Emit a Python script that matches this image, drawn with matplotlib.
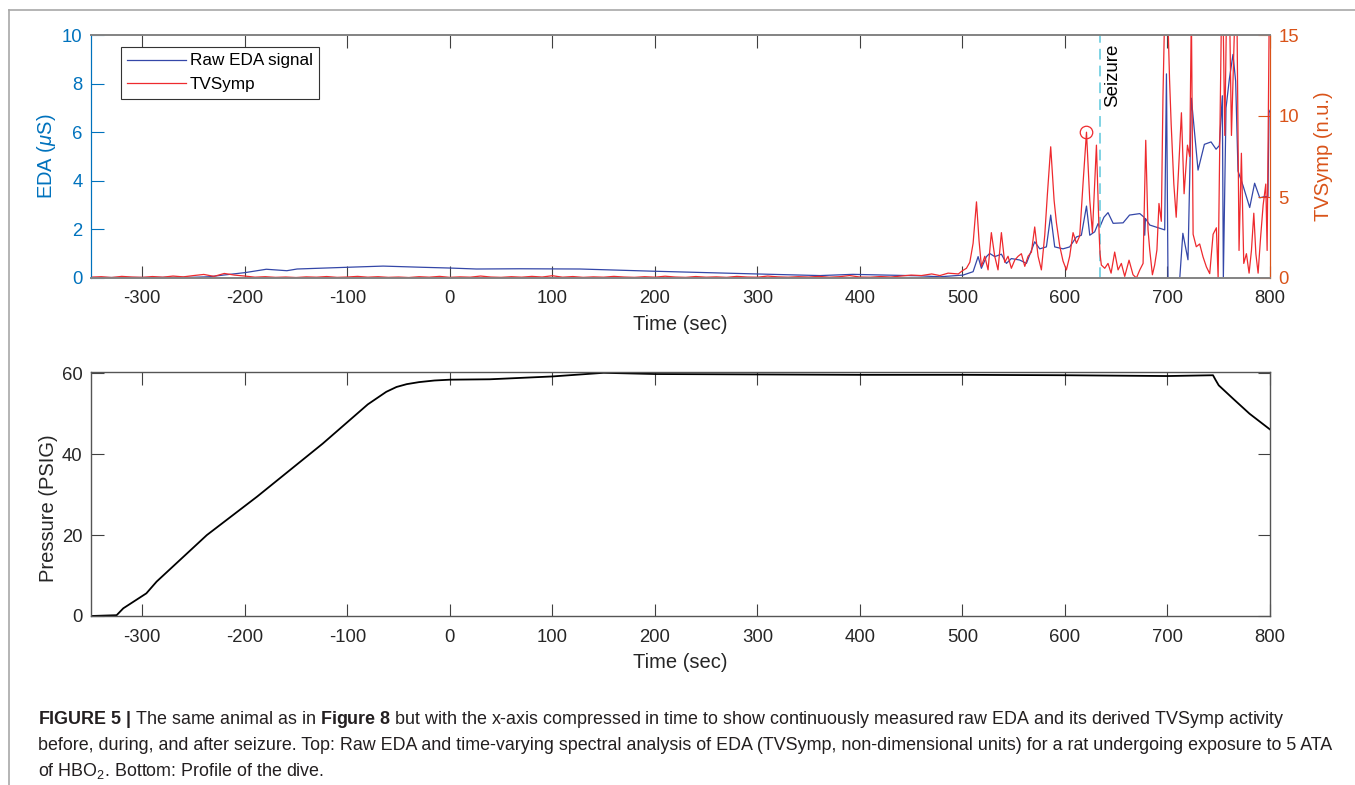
import numpy as np
import matplotlib
matplotlib.use('Agg')
import matplotlib.pyplot as plt
from matplotlib.lines import Line2D

plt.rcParams['font.family'] = ['Liberation Sans', 'DejaVu Sans']
plt.rcParams['mathtext.fontset'] = 'custom'
plt.rcParams['mathtext.rm'] = 'Liberation Sans'
plt.rcParams['mathtext.it'] = 'Liberation Sans:italic'
plt.rcParams['mathtext.bf'] = 'Liberation Sans:bold'
plt.rcParams['axes.unicode_minus'] = False

# -------------------------------
# Data
# -------------------------------
# raw EDA (uS)
eda_t = [-350, -300, -250, -235, -221, -200, -179, -159, -149, -101, -65, -26, 0, 26, 68,
         127, 198, 296, 361, 393, 458, 478, 500.6, 510.4, 515.3, 518.5, 523.4, 526.6, 531.5, 538,
         542.9, 547.7, 555.9, 562.4, 570.5, 575.4, 581.9, 586.1, 590, 598.1, 604.6, 611.2, 616, 621, 624.2,
         629, 632.3, 634, 638, 642, 647, 656.7, 663, 673, 677.2, 677.8, 678.5, 682.7, 697.3, 699,
         700.5, 712, 715, 720, 723.3, 729.8, 736, 742.5, 747.4, 750.6, 753.5, 754.5, 757.1, 760.4, 763.9,
         766.5, 768.8, 773.7, 780.2, 785, 790, 794.8, 798, 799, 800]
eda_v = [0.02, 0.02, 0.03, 0.05, 0.12, 0.22, 0.36, 0.3, 0.37, 0.44, 0.49, 0.44, 0.41, 0.37, 0.38,
         0.37, 0.28, 0.17, 0.1, 0.15, 0.09, 0.05, 0.12, 0.26, 0.88, 0.4, 0.88, 1.01, 0.88, 0.98,
         0.6, 0.8, 0.74, 0.6, 1.49, 1.2, 1.28, 2.59, 1.28, 1.2, 1.28, 1.69, 1.76, 2.96, 1.76,
         1.9, 2.24, 2.1, 2.5, 2.69, 2.25, 2.27, 2.59, 2.65, 2.5, 1.76, 2.45, 2.18, 1.98, 8.4,
         0.0, 0.0, 1.84, 0.75, 7.4, 4.44, 5.5, 5.6, 5.3, 5.45, 7.5, 0.0, 7.0, 8.2, 9.2,
         8.1, 4.4, 3.8, 2.9, 3.9, 3.3, 3.35, 3.35, 6.8, 6.9]

# TVSymp (n.u.), quiet part sampled every 10 s from -350 to 470
tv_quiet = [0.05, 0.08, 0.03, 0.1, 0.06, 0.04, 0.09, 0.05, 0.12, 0.07,
            0.15, 0.22, 0.1, 0.28, 0.18, 0.12, 0.05, 0.08, 0.04, 0.06,
            0.03, 0.07, 0.05, 0.09, 0.04, 0.06, 0.1, 0.05, 0.08, 0.04,
            0.06, 0.03, 0.08, 0.05, 0.1, 0.04, 0.07, 0.05, 0.12, 0.06,
            0.04, 0.08, 0.05, 0.1, 0.06, 0.14, 0.05, 0.09, 0.04, 0.07,
            0.05, 0.1, 0.06, 0.04, 0.08, 0.05, 0.11, 0.06, 0.04, 0.09,
            0.05, 0.07, 0.04, 0.1, 0.06, 0.05, 0.12, 0.07, 0.05, 0.08,
            0.06, 0.1, 0.05, 0.08, 0.15, 0.06, 0.05, 0.09, 0.06, 0.12,
            0.18, 0.15, 0.25]
tv_quiet_t = np.arange(-350, 471, 10)

# TVSymp active part
tv_t = [478, 486, 496, 500, 503.9, 507.2, 510.4, 513.7, 516.2, 518.5,
        521.8, 525, 528.2, 531.5, 534.7, 538, 541.2, 544.5, 547.7, 551,
        554.3, 557.5, 560.8, 564, 567.3, 570.5, 573.8, 577, 580.3, 582.9,
        586.1, 589.4, 591.7, 594.9, 598.1, 601.4, 604.6, 607.9, 611.2, 614.4,
        617.7, 621, 624.2, 626.8, 630.7, 633.3, 634.2, 635.5, 638.8, 642,
        645, 648.5, 651.8, 655, 658.3, 662.5, 666.4, 669.7, 673, 676.2,
        678.8, 681, 682.7, 685.3, 687.5, 689.7, 691.7, 694, 695.6, 697.3,
        700, 702, 703.6, 706.2, 708.5, 713.6, 716.2, 719.5, 721.7, 723.3,
        725, 728.1, 731.4, 734.7, 738, 741.2, 744.5, 747.7, 749.4, 751,
        752.6, 754.3, 755.9, 757.5, 760.7, 762.4, 765.6, 767.8, 769.8, 772.1,
        774.4, 777, 779.6, 781.9, 784.2, 786.2, 788.4, 790.7, 793.3, 795.9,
        797.2, 799.2, 800]
tv_v = [0.15, 0.3, 0.25, 0.45, 0.6, 0.97, 2.14, 4.7, 2.3, 0.72,
        1.34, 0.5, 2.8, 1.34, 0.5, 2.8, 0.97, 1.34, 0.6, 1.1,
        1.34, 1.5, 0.72, 1.34, 1.6, 3.15, 1.34, 0.5, 2.65, 5.2,
        8.1, 4.8, 3.4, 1.97, 1.05, 0.5, 1.34, 2.8, 2.14, 2.6,
        5.9, 9.0, 4.8, 2.8, 8.2, 2.8, 1.5, 0.8, 0.6, 0.9,
        0.3, 1.6, 0.5, 0.9, 0.1, 1.1, 0.2, 0.0, 0.5, 0.9,
        8.5, 3.0, 1.73, 0.2, 0.8, 1.73, 4.6, 3.5, 11.2, 16.5,
        17, 12.3, 9.5, 5.8, 3.75, 10.2, 5.2, 8.2, 7.5, 16.5,
        2.7, 1.93, 2.1, 1.3, 0.68, 0.27, 2.7, 3.1, 0.0, 8.3,
        16, 16, 8.8, 16, 16, 8.8, 16, 16, 1.7, 7.7,
        0.9, 1.5, 0.3, 1.7, 4.0, 1.5, 0.3, 2.4, 4.5, 5.8,
        1.7, 16, 16]

peak_t, peak_v = 621, 9.0      # circled TVSymp peak
seizure_t = 634

# dive profile (PSIG)
p_t = [-350, -325, -318.5, -296, -286, -237, -188, -124, -80, -62, -52, -42, -30, -15, 0, 39,
       100, 150, 200, 300, 400, 500, 600, 700, 744.4, 747, 750, 764, 780, 800]
p_v = [0, 0.2, 1.9, 5.6, 8.5, 20.0, 29.5, 42.6, 52.3, 55.4, 56.6, 57.3, 57.8, 58.2, 58.4, 58.5,
       59.2, 60.1, 59.8, 59.7, 59.6, 59.6, 59.5, 59.3, 59.5, 58.3, 57.0, 53.7, 50.0, 46.1]

xticks = [-300, -200, -100, 0, 100, 200, 300, 400, 500, 600, 700, 800]

# -------------------------------
# Figure
# -------------------------------
W, H = 1355, 785
fig = plt.figure(figsize=(W / 100, H / 100), dpi=100)

c_left = '#0072bd'
c_right = '#d95319'
c_blue = '#3447a8'
c_red = '#ee2a2e'
c_ax = '#404040'
fs_tick = 13.3
fs_lab = 14.5

def px_box(l, t, r, b):
    return [l / W, 1 - b / H, (r - l) / W, (b - t) / H]

# top panel
ax1 = fig.add_axes(px_box(91, 35, 1270, 278))
ax2 = ax1.twinx()

tv_all_t = list(tv_quiet_t) + tv_t
tv_all_v = tv_quiet + tv_v
l1, = ax1.plot(eda_t, eda_v, color=c_blue, lw=0.9, label='Raw EDA signal')
l2, = ax2.plot(tv_all_t, tv_all_v, color=c_red, lw=0.9, label='TVSymp')
ax2.plot([peak_t], [peak_v], 'o', mfc='none', mec=c_red, ms=9, mew=0.9)
ax1.axvline(seizure_t, color='#5cc8dc', lw=1.1, ls=(0, (7, 4)))
ax1.text(seizure_t + 4, 9.65, 'Seizure', rotation=90, ha='left', va='top',
         fontsize=13.5, color='black')

ax1.set_xlim(-350, 800)
ax1.set_ylim(0, 10)
ax2.set_ylim(0, 15)
ax1.set_xticks(xticks)
ax1.set_yticks([0, 2, 4, 6, 8, 10])
ax2.set_yticks([0, 5, 10, 15])

ax1.tick_params(axis='x', direction='in', length=9, width=0.8, color=c_ax,
                labelsize=fs_tick, labelcolor='#262626', top=True, pad=9)
ax1.tick_params(axis='y', direction='in', length=9, width=0.8, color=c_left,
                labelsize=fs_tick, labelcolor=c_left, pad=6)
ax2.tick_params(axis='y', direction='in', length=9, width=0.8, color=c_right,
                labelsize=fs_tick, labelcolor=c_right, pad=6)

for a in (ax1, ax2):
    a.spines['top'].set_color('#858585')
    a.spines['bottom'].set_color('#858585')
    a.spines['top'].set_linewidth(1.3)
    a.spines['bottom'].set_linewidth(1.3)
ax2.spines['left'].set_color(c_left)
ax2.spines['right'].set_color(c_right)
ax1.spines['left'].set_color(c_left)
ax1.spines['right'].set_color(c_right)

ax1.set_xlabel('Time (sec)', fontsize=fs_lab, color='#262626')
ax1.xaxis.set_label_coords(0.4996, -0.152)
ax1.set_ylabel(r'EDA ($\mu$S)', fontsize=fs_lab, color=c_left)
ax1.yaxis.set_label_coords(-0.028, 0.5)
ax2.set_ylabel('TVSymp (n.u.)', fontsize=fs_lab, color=c_right)
ax2.yaxis.set_label_coords(1.037, 0.5)

leg = ax2.legend(handles=[l1, l2], loc='upper left', bbox_to_anchor=(0.0254, 0.9506),
                 borderaxespad=0, fontsize=12.3, fancybox=False, framealpha=1,
                 edgecolor='#333333', handlelength=3.4, handletextpad=0.25,
                 labelspacing=0.5, borderpad=0.38)
leg.get_frame().set_linewidth(0.8)

# bottom panel
ax3 = fig.add_axes(px_box(91, 372, 1270, 616))
ax3.plot(p_t, p_v, color='black', lw=1.3)
ax3.set_xlim(-350, 800)
ax3.set_ylim(0, 60.3)
ax3.set_xticks(xticks)
ax3.set_yticks([0, 20, 40, 60])
ax3.tick_params(direction='in', length=9, width=0.8, color=c_ax, labelsize=fs_tick,
                labelcolor='#262626', top=True, right=True)
ax3.tick_params(axis='x', pad=9)
ax3.tick_params(axis='y', pad=6)
for s in ax3.spines.values():
    s.set_color('#555555')
    s.set_linewidth(1.0)
ax3.set_xlabel('Time (sec)', fontsize=fs_lab, color='#262626')
ax3.xaxis.set_label_coords(0.4996, -0.15)
ax3.set_ylabel('Pressure (PSIG)', fontsize=fs_lab, color='#262626')
ax3.yaxis.set_label_coords(-0.028, 0.44)

# frame around figure + caption
fig.add_artist(Line2D([9 / W, 9 / W], [0, 1 - 10 / H], transform=fig.transFigure,
                      color='#a8a8a8', lw=1.2))
fig.add_artist(Line2D([9 / W, 1], [1 - 10 / H, 1 - 10 / H], transform=fig.transFigure,
                      color='#a8a8a8', lw=1.2))

cap = [r'$\mathbf{FIGURE\ 5\ |}$ The same animal as in $\mathbf{Figure\ 8}$ but with the x-axis compressed in time to show continuously measured raw EDA and its derived TVSymp activity',
       'before, during, and after seizure. Top: Raw EDA and time-varying spectral analysis of EDA (TVSymp, non-dimensional units) for a rat undergoing exposure to 5 ATA',
       r'of HBO$_2$. Bottom: Profile of the dive.']
for i, line in enumerate(cap):
    fig.text(38 / W, 1 - (720 + 25.5 * i) / H, line, fontsize=12.9, color='#231f20',
             ha='left', va='center')

fig.savefig('out.png', dpi=100)
